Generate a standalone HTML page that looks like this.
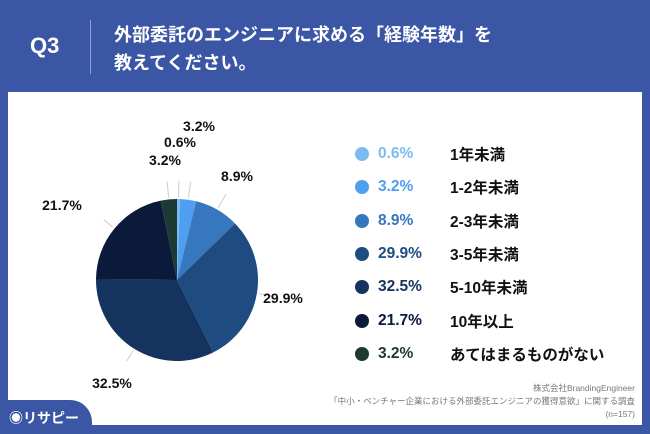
<!DOCTYPE html>
<html><head><meta charset="utf-8"><style>
html,body{margin:0;width:650px;height:434px;overflow:hidden}
body{background:#3a56a4;font-family:"Liberation Sans","Noto Sans CJK JP",sans-serif;position:relative}
.hdr-q{position:absolute;left:30px;top:33px;color:#fff;font-weight:bold;font-size:22px}
.hdr-line{position:absolute;left:90px;top:20px;width:1px;height:54px;background:#8fa2d3}
.hdr-t{position:absolute;left:114px;top:21px;color:#fff;font-weight:bold;font-size:18px;line-height:28px}
.panel{position:absolute;left:8px;top:92px;width:634px;height:333px;background:#fff}
.logo{position:absolute;left:0;top:400px;width:92px;height:34px;background:#3a56a4;border-top-right-radius:22px;color:#fff;font-size:14px;font-weight:bold;white-space:nowrap}
.src{position:absolute;right:15px;top:382px;text-align:right;color:#777;font-size:8.5px;line-height:13px;white-space:nowrap}
.leg{position:absolute;left:355px;height:20px;font-size:15.5px;font-weight:bold;display:flex;align-items:center;white-space:nowrap}
.leg i{width:14px;height:14px;border-radius:50%;display:inline-block;margin-right:9px}
.leg .v{width:72px}
.leg .l{color:#111}
</style></head><body>
<div class="hdr-q">Q3</div>
<div class="hdr-line"></div>
<div class="hdr-t">外部委託のエンジニアに求める「経験年数」を<br>教えてください。</div>
<div class="panel"></div>
<svg id="pie" width="650" height="434" style="position:absolute;left:0;top:0"></svg>
<div id="legend"></div>
<div class="src">株式会社BrandingEngineer<br>「中小・ベンチャー企業における外部委託エンジニアの獲得意欲」に関する調査<br>(n=157)</div>
<div class="logo"><span style="position:absolute;left:9px;top:8px">◉リサピー</span></div>
<script>
const categories=["1年未満","1-2年未満","2-3年未満","3-5年未満","5-10年未満","10年以上","あてはまるものがない"];
const values=[0.6,3.2,8.9,29.9,32.5,21.7,3.2];
const colors=["#7dbaf2","#4e9ff0","#3677bd","#1f4c80","#14335f","#0b1a3b","#1c3a33"];
const labelPos=[[180,142],[199,126],[237,176],[283,298],[112,383],[62,205],[165,160]];
const cx=177,cy=280,R=81;
const svg=document.getElementById('pie');const NS="http://www.w3.org/2000/svg";
const total=values.reduce((a,b)=>a+b,0);
function pt(a,r){return [cx+r*Math.sin(a),cy-r*Math.cos(a)];}
let a0=0;
values.forEach((v,i)=>{
 const a1=a0+v/total*2*Math.PI;
 const p0=pt(a0,R),p1=pt(a1,R);
 const p=document.createElementNS(NS,'path');
 p.setAttribute('d',`M${cx},${cy}L${p0[0]},${p0[1]}A${R},${R} 0 ${a1-a0>Math.PI?1:0} 1 ${p1[0]},${p1[1]}Z`);
 p.setAttribute('fill',colors[i]);
 
 
 svg.appendChild(p);
 const am=(a0+a1)/2,m=pt(am,R+2),lp=labelPos[i];
 const ln=document.createElementNS(NS,'line');
 const end=pt(am,R+(i<3||i==6?18:14));
 ln.setAttribute('x1',m[0]);ln.setAttribute('y1',m[1]);ln.setAttribute('x2',end[0]);ln.setAttribute('y2',end[1]);
 ln.setAttribute('stroke','#ccc');ln.setAttribute('stroke-width','1');
 
 
 svg.appendChild(ln);
 const t=document.createElementNS(NS,'text');
 t.setAttribute('x',lp[0]);t.setAttribute('y',lp[1]+5);t.setAttribute('text-anchor','middle');
 t.setAttribute('font-size','14');t.setAttribute('font-weight','bold');t.setAttribute('fill','#111');
 t.textContent=v.toFixed(1)+'%';
 
 
 svg.appendChild(t);
 a0=a1;
});
const leg=document.getElementById('legend');
categories.forEach((c,i)=>{
 const d=document.createElement('div');d.className='leg';d.style.top=(144+i*33.3)+'px';
 d.innerHTML=`<i style="background:${colors[i]}"></i><span class="v" style="color:${colors[i]}">${values[i].toFixed(1)}%</span><span class="l">${c}</span>`;
 
 
 leg.appendChild(d);
});
</script>
</body></html>
